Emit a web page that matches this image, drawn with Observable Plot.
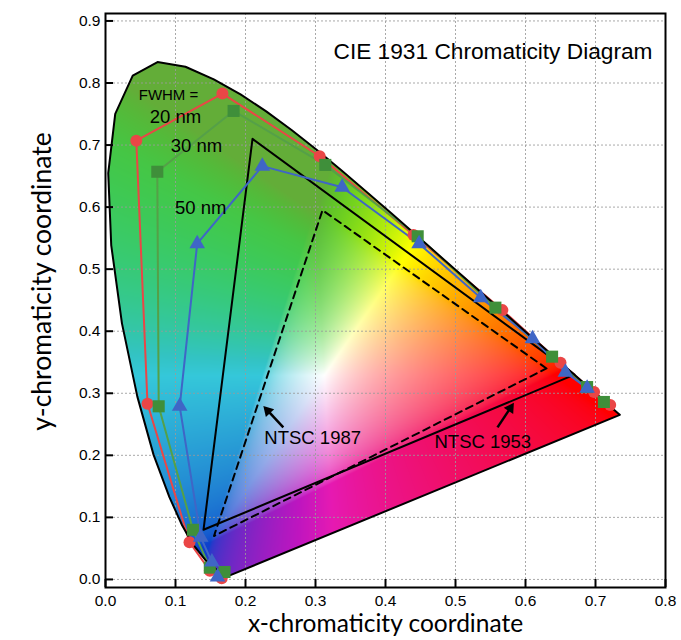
<!DOCTYPE html>
<html>
<head>
<meta charset="utf-8">
<script src="https://cdn.jsdelivr.net/npm/d3@7"></script>
<script src="https://cdn.jsdelivr.net/npm/@observablehq/plot@0.6"></script>
<style>
  html, body { margin: 0; padding: 0; background: #fff; }
  #chart { width: 681px; height: 640px; }
</style>
</head>
<body>
<div id="chart"></div>
<script>
// ---- Data ----
// CIE 1931 2° spectral locus (x, y chromaticity), 380 nm → 700 nm
const locusX = [0.1741,0.1733,0.1726,0.1714,0.1689,0.1644,0.1566,0.1440,0.1241,0.1096,0.0913,0.0687,0.0454,0.0235,0.0082,0.0039,0.0139,0.0389,0.0743,0.1142,0.1547,0.1929,0.2296,0.2658,0.3016,0.3373,0.3731,0.4087,0.4441,0.4788,0.5125,0.5448,0.5752,0.6029,0.6270,0.6482,0.6658,0.6915,0.7079,0.7190,0.7260,0.7300,0.7347];
const locusY = [0.0050,0.0048,0.0048,0.0051,0.0069,0.0109,0.0177,0.0297,0.0578,0.0868,0.1327,0.2007,0.2950,0.4127,0.5384,0.6548,0.7502,0.8120,0.8338,0.8262,0.8059,0.7816,0.7543,0.7243,0.6923,0.6589,0.6245,0.5896,0.5547,0.5202,0.4866,0.4544,0.4242,0.3965,0.3725,0.3514,0.3340,0.3083,0.2920,0.2809,0.2740,0.2700,0.2653];

// Emitter chromaticities for three spectral widths
const red20X = [0.166,0.149,0.120,0.060,0.044,0.167,0.306,0.440,0.567,0.650,0.698,0.721];
const red20Y = [0.002,0.014,0.060,0.283,0.707,0.783,0.682,0.555,0.434,0.349,0.302,0.281];
const green30X = [0.170,0.149,0.125,0.076,0.074,0.183,0.314,0.446,0.557,0.638,0.688,0.712];
const green30Y = [0.012,0.019,0.080,0.279,0.657,0.755,0.668,0.553,0.438,0.359,0.310,0.286];
const blue50X = [0.160,0.152,0.136,0.106,0.131,0.224,0.338,0.448,0.536,0.610,0.657,0.688];
const blue50Y = [0.004,0.028,0.068,0.279,0.541,0.666,0.632,0.541,0.454,0.388,0.334,0.308];

// NTSC primaries (R, G, B)
const ntsc1953X = [0.67, 0.21, 0.14];
const ntsc1953Y = [0.33, 0.71, 0.08];
const ntsc1987X = [0.63, 0.31, 0.155];
const ntsc1987Y = [0.34, 0.595, 0.07];

const xTicks = [0,0.1,0.2,0.3,0.4,0.5,0.6,0.7,0.8];
const yTicks = [0,0.1,0.2,0.3,0.4,0.5,0.6,0.7,0.8,0.9];

const titleText = "CIE 1931 Chromaticity Diagram";
const xLabel = "x-chromaticity coordinate";
const yLabel = "y-chromaticity coordinate";

// annotation labels (text, x, y)
const labelText = ["FWHM =", "20 nm", "30 nm", "50 nm", "NTSC 1987", "NTSC 1953"];
const labelX = [0.090, 0.100, 0.130, 0.136, 0.296, 0.539];
const labelY = [0.781, 0.745, 0.698, 0.598, 0.227, 0.221];
const labelSize = [15, 18.5, 18.5, 18.5, 18.5, 18.5];

// annotation arrows (from text toward the triangle edges)
const arrowX1 = [0.254, 0.560];
const arrowY1 = [0.245, 0.245];
const arrowX2 = [0.226, 0.583];
const arrowY2 = [0.279, 0.284];

// ---- Layout ----
const W = 681, H = 640;
const mL = 105, mR = 16, mT = 13, mB = 53;
const xDom = [0, 0.8], yDom = [-0.013, 0.912];
const fw = W - mL - mR, fh = H - mT - mB;
const kx = fw / (xDom[1] - xDom[0]), ky = fh / (yDom[1] - yDom[0]); // px per unit
const sans = "Liberation Sans, Arial, sans-serif";
const labelFont = "Lato, Noto Sans, sans-serif";

// ---- Build tables ----
const zip = (xs, ys) => xs.map((x, i) => ({x, y: ys[i]}));
const locus = zip(locusX, locusY);
const locusClosed = [...locus, locus[0]];
const locusPoly = locus.map(d => [d.x, d.y]);
const red20 = zip(red20X, red20Y);
const green30 = zip(green30X, green30Y);
const blue50 = zip(blue50X, blue50Y);
const tri = (xs, ys) => { const p = zip(xs, ys); return [...p, p[0]]; };
const ntsc1953 = tri(ntsc1953X, ntsc1953Y);
const ntsc1987 = tri(ntsc1987X, ntsc1987Y);
const labels = labelText.map((t, i) => ({t, x: labelX[i], y: labelY[i], s: labelSize[i]}));
const headBack = 6; // px: triangle centroid sits behind the arrow tip
const arrows = arrowX1.map((x1, i) => {
  const x2 = arrowX2[i], y2 = arrowY2[i], y1 = arrowY1[i];
  const px = (x2 - x1) * kx, py = -(y2 - y1) * ky; // screen vector
  const len = Math.hypot(px, py);
  const ux = px / len, uy = py / len;
  return {x1, y1, x2, y2,
    hx: x2 - ux * headBack / kx, hy: y2 + uy * headBack / ky,
    lx: x2 - ux * (headBack + 2) / kx, ly: y2 + uy * (headBack + 2) / ky,
    rot: Math.atan2(ux, -uy) * 180 / Math.PI};
});

// chromaticity → display colour
function gam(c) { return c <= 0.0031308 ? 12.92 * c : 1.055 * Math.pow(c, 1 / 2.4) - 0.055; }
const greenTarget = [0.39, 0.68, 0.22];
function chromaColor(x, y) {
  if (!d3.polygonContains(locusPoly, [x, y])) return null;
  const X = x / y, Y = 1, Z = (1 - x - y) / y;
  let r = 3.2406 * X - 1.5372 * Y - 0.4986 * Z;
  let g = -0.9689 * X + 1.8758 * Y + 0.0415 * Z;
  let b = 0.0557 * X - 0.2040 * Y + 1.0570 * Z;
  r = Math.max(0, r); g = Math.max(0, g); b = Math.max(0, b);
  const m = Math.max(r, g, b) || 1;
  r = gam(r / m); g = gam(g / m); b = gam(b / m);
  // soften green toward a mid leaf green
  let d = g - Math.max(r, b);
  if (d > 0) {
    const t = Math.min(1, d * 1.15);
    r = r + (greenTarget[0] - r) * t;
    g = g + (greenTarget[1] - g) * t;
    b = b + (greenTarget[2] - b) * t;
  }
  // soften cyan
  d = Math.min(g, b) - r;
  if (d > 0) { g -= 0.25 * d; b -= 0.12 * d; r += 0.2 * d; }
  // soften magenta
  d = Math.min(r, b) - g;
  if (d > 0) { b -= 0.3 * d; r -= 0.1 * d; g += 0.1 * d; }
  // soften blue
  d = b - Math.max(r, g);
  if (d > 0) { b -= 0.2 * d; g += 0.25 * d; r += 0.05 * d; }
  const c = v => Math.round(255 * Math.max(0, Math.min(1, v)));
  return `rgb(${c(r)},${c(g)},${c(b)})`;
}

const redC = "#ea4646", greenC = "#3f8f3a", greenLine = "#55a048", blueC = "#3f66c6";

const chart = Plot.plot({
  width: W, height: H,
  marginLeft: mL, marginRight: mR, marginTop: mT, marginBottom: mB,
  x: {domain: xDom},
  y: {domain: yDom},
  color: {type: "identity"},
  style: {fontFamily: sans, background: "white"},
  marks: [
    Plot.raster({x1: xDom[0], x2: xDom[1], y1: yDom[0], y2: yDom[1], width: fw, height: fh,
      fill: (x, y) => chromaColor(x, y)}),
    Plot.gridX(xTicks, {stroke: "#9a9a9a", strokeOpacity: 0.85, strokeDasharray: "2,2"}),
    Plot.gridY(yTicks, {stroke: "#9a9a9a", strokeOpacity: 0.85, strokeDasharray: "2,2"}),
    Plot.line(ntsc1953, {x: "x", y: "y", stroke: "black", strokeWidth: 2}),
    Plot.line(ntsc1987, {x: "x", y: "y", stroke: "black", strokeWidth: 2, strokeDasharray: "7,5"}),
    Plot.line(red20, {x: "x", y: "y", stroke: redC, strokeWidth: 2}),
    Plot.line(green30, {x: "x", y: "y", stroke: greenLine, strokeWidth: 2}),
    Plot.line(blue50, {x: "x", y: "y", stroke: blueC, strokeWidth: 2}),
    Plot.line(locusClosed, {x: "x", y: "y", stroke: "black", strokeWidth: 2}),
    Plot.dot(red20, {x: "x", y: "y", r: 6, fill: redC, symbol: "circle"}),
    Plot.dot(green30, {x: "x", y: "y", r: 6.8, fill: greenC, symbol: "square"}),
    Plot.dot(blue50, {x: "x", y: "y", r: 5.8, fill: blueC, symbol: "triangle"}),
    Plot.text(labels, {x: "x", y: "y", text: "t", fontSize: d => d.s, fill: "black", fontFamily: sans}),
    Plot.link(arrows, {x1: "x1", y1: "y1", x2: "lx", y2: "ly", stroke: "black", strokeWidth: 2.5}),
    Plot.dot(arrows, {x: "hx", y: "hy", symbol: "triangle", r: 4.2, fill: "black", rotate: "rot"}),
    Plot.text([titleText], {frameAnchor: "top-right", dx: -13, dy: 29, textAnchor: "end", fontSize: 22.7, fill: "black", fontFamily: sans}),
    Plot.tickX(xTicks, {x: d => d, insetTop: fh - 8, stroke: "black", strokeWidth: 2}),
    Plot.tickY(yTicks, {y: d => d, insetRight: fw - 8, stroke: "black", strokeWidth: 2}),
    Plot.axisX(xTicks, {anchor: "bottom", tickSize: 0, tickPadding: 7, fontSize: 15.5, tickFormat: d3.format(".1f"), label: null, fill: "black"}),
    Plot.axisY(yTicks, {anchor: "left", tickSize: 0, tickPadding: 5, fontSize: 15.5, tickFormat: d3.format(".1f"), label: null, fill: "black"}),
    Plot.text([xLabel], {x: 0.4, y: -0.072, fontSize: 24.5, fontFamily: labelFont, fill: "black"}),
    Plot.text([yLabel], {x: -0.09, y: 0.48, rotate: -90, fontSize: 26.5, fontFamily: labelFont, fill: "black"}),
    Plot.frame({stroke: "black", strokeWidth: 2})
  ]
});
document.getElementById("chart").appendChild(chart);
</script>
</body>
</html>
